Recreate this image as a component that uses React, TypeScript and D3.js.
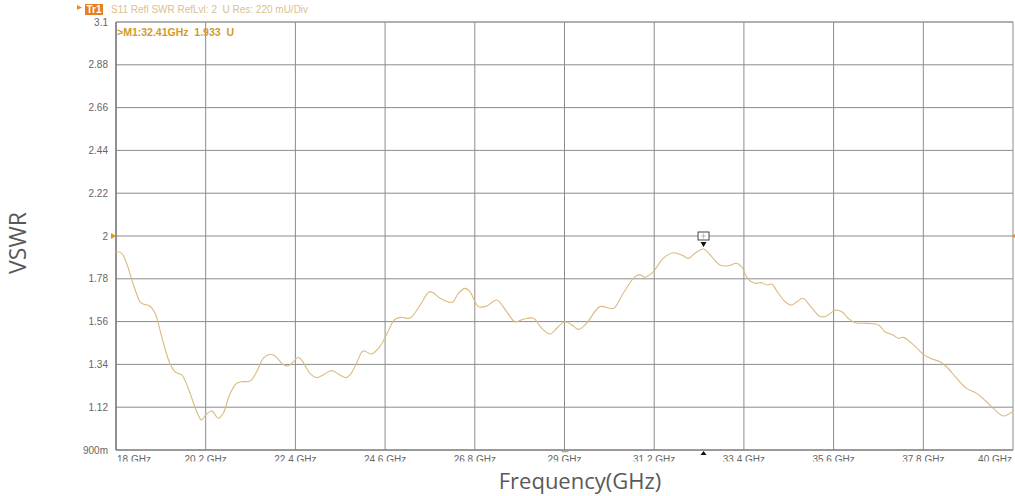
import React from "react";
import * as d3 from "d3";

const freqGHz = [
  18.0, 18.14, 18.26, 18.43, 18.59, 18.67, 18.83, 18.96, 19.12, 19.32, 19.45, 19.61, 19.69, 19.86, 19.98,
  20.1, 20.22, 20.35, 20.51, 20.63, 20.8, 20.96, 21.08, 21.29, 21.45, 21.61, 21.78, 21.9, 22.1, 22.23,
  22.35, 22.47, 22.55, 22.76, 22.92, 23.08, 23.29, 23.49, 23.65, 23.74, 23.9, 24.06, 24.27, 24.47, 24.63,
  24.84, 25.0, 25.21, 25.46, 25.7, 25.95, 26.19, 26.27, 26.4, 26.56, 26.68, 26.89, 27.09, 27.34, 27.58,
  27.79, 27.99, 28.24, 28.44, 28.65, 28.81, 29.01, 29.18, 29.34, 29.54, 29.87, 30.2, 30.44, 30.73, 30.85,
  30.97, 31.18, 31.42, 31.67, 31.88, 32.04, 32.2, 32.41, 32.61, 32.81, 33.02, 33.22, 33.34, 33.51, 33.67,
  33.84, 33.96, 34.08, 34.21, 34.41, 34.57, 34.7, 34.85, 35.03, 35.27, 35.43, 35.64, 35.8, 35.96, 36.13,
  36.41, 36.7, 36.86, 37.06, 37.19, 37.31, 37.52, 37.8, 37.97, 38.21, 38.37, 38.62, 38.86, 39.11, 39.35,
  39.52, 39.76, 40.0,
];
const vswr = [
  1.92, 1.911, 1.86, 1.748, 1.662, 1.65, 1.64, 1.603, 1.483, 1.346, 1.302, 1.286, 1.26, 1.166, 1.097,
  1.054, 1.085, 1.1, 1.063, 1.089, 1.191, 1.243, 1.251, 1.255, 1.302, 1.371, 1.392, 1.383, 1.34, 1.333,
  1.354, 1.377, 1.363, 1.294, 1.272, 1.286, 1.308, 1.286, 1.272, 1.286, 1.346, 1.409, 1.394, 1.431, 1.491,
  1.572, 1.582, 1.578, 1.645, 1.714, 1.68, 1.659, 1.662, 1.706, 1.731, 1.714, 1.637, 1.64, 1.671, 1.611,
  1.559, 1.572, 1.577, 1.526, 1.496, 1.526, 1.559, 1.543, 1.52, 1.551, 1.637, 1.628, 1.706, 1.791, 1.8,
  1.788, 1.817, 1.885, 1.914, 1.902, 1.885, 1.911, 1.933, 1.894, 1.851, 1.847, 1.86, 1.842, 1.777, 1.757,
  1.76, 1.748, 1.753, 1.717, 1.662, 1.645, 1.662, 1.68, 1.64, 1.586, 1.589, 1.619, 1.611, 1.577, 1.554,
  1.551, 1.543, 1.508, 1.491, 1.474, 1.479, 1.448, 1.393, 1.371, 1.354, 1.328, 1.268, 1.217, 1.191, 1.148,
  1.114, 1.075, 1.1,
];

const xTickValues = [18, 20.2, 22.4, 24.6, 26.8, 29, 31.2, 33.4, 35.6, 37.8, 40];
const xTickLabels = ["18 GHz", "20.2 GHz", "22.4 GHz", "24.6 GHz", "26.8 GHz", "29 GHz", "31.2 GHz", "33.4 GHz", "35.6 GHz", "37.8 GHz", "40 GHz"];
const yTickValues = [0.9, 1.12, 1.34, 1.56, 1.78, 2, 2.22, 2.44, 2.66, 2.88, 3.1];
const yTickLabels = ["900m", "1.12", "1.34", "1.56", "1.78", "2", "2.22", "2.44", "2.66", "2.88", "3.1"];

const markerFreq = 32.41;
const markerVal = 1.933;
const refLevel = 2;

const W = 1015;
const H = 496;
const L = 116, R = 1013, T = 22, B = 450;

export default function App() {
  const x = d3.scaleLinear().domain([18, 40]).range([L, R]);
  const y = d3.scaleLinear().domain([0.9, 3.1]).range([B, T]);
  const pts = freqGHz.map((f, i) => [f, vswr[i]] as [number, number]);
  const line = d3
    .line<[number, number]>()
    .x((d) => x(d[0]))
    .y((d) => y(d[1]))
    .curve(d3.curveCatmullRom.alpha(0.5));

  const instr = "'Liberation Sans', Arial, sans-serif";
  const title = "'Open Sans', 'Noto Sans', sans-serif";
  const mx = x(markerFreq);
  const my = y(markerVal);
  const ry = y(refLevel);
  const pre = { whiteSpace: "pre" as const };

  return (
    <svg width={W} height={H} style={{ position: "absolute", left: 0, top: 0, background: "#fff" }}>
      <defs>
        <clipPath id="xlab">
          <rect x={0} y={B} width={W} height={11.5} />
        </clipPath>
      </defs>
      <rect x={0} y={0} width={W} height={H} fill="#fff" />
      {/* header */}
      <path d="M77,5 L82,7.5 L77,10 Z" fill="#e8901c" />
      <rect x={85} y={4} width={18} height={11} fill="#e8801c" />
      <text x={94} y={13} fontFamily={instr} fontSize={10} fill="#fff" textAnchor="middle" fontWeight="bold">Tr1</text>
      <text x={111} y={13} fontFamily={instr} fontSize={10} fill="#dcc08e" style={pre}>S11 Refl SWR RefLvl: 2  U Res: 220 mU/Div</text>

      {/* grid */}
      {xTickValues.map((v, i) => (
        <line key={"gx" + i} x1={x(v)} x2={x(v)} y1={T} y2={B} stroke="#8c8c8c" strokeWidth={1} />
      ))}
      {yTickValues.map((v, i) => (
        <line key={"gy" + i} x1={L} x2={R} y1={y(v)} y2={y(v)} stroke="#8c8c8c" strokeWidth={1} />
      ))}
      <line x1={L} x2={L} y1={T} y2={B} stroke="#6e6e6e" strokeWidth={1.2} />
      <line x1={L} x2={R} y1={B} y2={B} stroke="#6e6e6e" strokeWidth={1.2} />
      <line x1={L} x2={R} y1={T} y2={T} stroke="#9a9a9a" strokeWidth={1} />

      {/* y labels */}
      {yTickValues.map((v, i) => (
        <text key={"ly" + i} x={108} y={y(v) + 3.5} fontFamily={instr} fontSize={10} fill="#666" textAnchor="end">
          {yTickLabels[i]}
        </text>
      ))}
      {/* x labels (clipped like screenshot) */}
      <g clipPath="url(#xlab)">
        {xTickValues.map((v, i) => (
          <text
            key={"lx" + i}
            x={i === 0 ? x(v) + 1 : i === xTickValues.length - 1 ? x(v) - 1 : x(v)}
            y={463}
            fontFamily={instr}
            fontSize={10}
            fill="#666"
            textAnchor={i === 0 ? "start" : i === xTickValues.length - 1 ? "end" : "middle"}
          >
            {xTickLabels[i]}
          </text>
        ))}
      </g>
      <line x1={x(29) - 3} x2={x(29) + 4} y1={B + 1.5} y2={B + 1.5} stroke="#aaa" strokeWidth={1.5} />

      {/* ref level markers */}
      <path d={`M${L - 5},${ry - 3} L${L},${ry} L${L - 5},${ry + 3} Z`} fill="#e8901c" />
      <path d={`M${R + 2},${ry - 2} L${R - 1},${ry} L${R + 2},${ry + 2} Z`} fill="#e8901c" />

      {/* trace */}
      <path d={line(pts) || ""} fill="none" stroke="#dabb80" strokeWidth={1.1} />

      {/* marker */}
      <rect x={mx - 5.5} y={ry - 4} width={11} height={8} fill="#fff" stroke="#444" strokeWidth={1} />
      <line x1={mx} x2={mx} y1={ry - 2.5} y2={ry + 2.5} stroke="#e8a040" strokeWidth={0.8} />
      <line x1={mx - 2.5} x2={mx + 2.5} y1={ry} y2={ry} stroke="#e8a040" strokeWidth={0.8} />
      <path d={`M${mx - 3},${my - 7} L${mx + 3},${my - 7} L${mx},${my - 2} Z`} fill="#111" />
      <path d={`M${mx - 3},${B + 5} L${mx + 3},${B + 5} L${mx},${B + 1} Z`} fill="#111" />
      <text x={117} y={36} fontFamily={instr} fontSize={10.5} fill="#d19a2a" fontWeight="bold" style={pre}>
        {`>M1:${markerFreq}GHz  ${markerVal}  U`}
      </text>

      {/* axis titles */}
      <text x={580} y={489} fontFamily={title} fontSize={22} fill="#595959" textAnchor="middle">Frequency(GHz)</text>
      <text transform="translate(26,243) rotate(-90)" fontFamily={title} fontSize={23} fill="#595959" textAnchor="middle">VSWR</text>
    </svg>
  );
}
